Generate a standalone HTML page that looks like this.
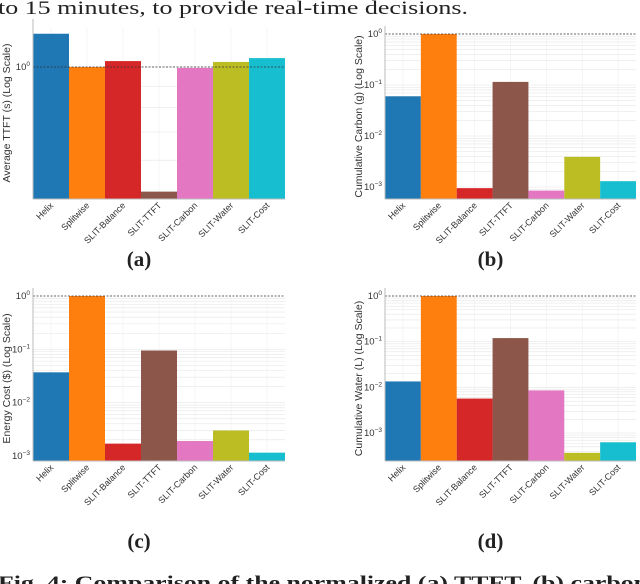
<!DOCTYPE html>
<html><head><meta charset="utf-8"><style>
body{margin:0;width:640px;height:584px;overflow:hidden;background:#fff;font-family:"Liberation Sans",sans-serif}
svg{position:absolute;left:0;top:0}
</style></head><body>
<svg id="s" width="640" height="584" xmlns="http://www.w3.org/2000/svg">
<text x="-2" y="14" font-family="Liberation Serif,serif" font-size="19" fill="#222" textLength="470" lengthAdjust="spacingAndGlyphs">to 15 minutes, to provide real-time decisions.</text>
<text x="-2" y="589" font-family="Liberation Serif,serif" font-size="19" font-weight="bold" fill="#222" textLength="650" lengthAdjust="spacingAndGlyphs">Fig. 4: Comparison of the normalized (a) TTFT, (b) carbon</text>
</svg>
<script>
const categories=["Helix","Splitwise","SLIT-Balance","SLIT-TTFT","SLIT-Carbon","SLIT-Water","SLIT-Cost"];
const colors=["#1f77b4","#ff7f0e","#d62728","#8c564b","#e377c2","#bcbd22","#17becf"];
const ttftValues=[1.2,1.0,1.033,0.505,0.995,1.028,1.05];
const carbonValues=[0.06,1.0,0.00095,0.115,0.00085,0.0039,0.0013];
const costValues=[0.037,1.0,0.0017,0.095,0.0019,0.003,0.00115];
const waterValues=[0.0135,1.0,0.0057,0.12,0.0086,0.00037,0.00063];
const ttftTicks=[0];
const decadeTicks=[0,-1,-2,-3];
const NS="http://www.w3.org/2000/svg";
const svg=document.getElementById('s');
function mk(t,a,p){const e=document.createElementNS(NS,t);for(const k in a)e.setAttribute(k,a[k]);(p||svg).appendChild(e);return e;}
function panel(id,vals,ticks,L,R,T,B,y0,pxDec,title,label,labY){
  const g=mk('g',{});
  
  
  const y=v=>y0-Math.log10(v)*pxDec;
  for(let d=-5;d<=0;d++){for(let m=1;m<10;m++){const yy=y(m*Math.pow(10,d));if(yy>T&&yy<B)mk('line',{x1:L,x2:R,y1:yy,y2:yy,stroke:'#e6e6e6','stroke-width':0.6},g);}}
  const bw=(R-L)/vals.length;
  for(let i=0;i<vals.length;i++)mk('line',{x1:L+bw*i+bw/2,x2:L+bw*i+bw/2,y1:T,y2:B,stroke:'#eee','stroke-width':0.6},g);
  vals.forEach((v,i)=>{
    const yt=Math.max(T,y(v));
    const r=mk('rect',{x:L+bw*i,y:yt,width:bw,height:B-yt,fill:colors[i]},g);
    
    
    const t=mk('text',{x:0,y:0,'font-size':9,fill:'#333','text-anchor':'end',transform:`translate(${L+bw*i+bw/2+3},${B+7}) rotate(-45)`},g);
    t.textContent=categories[i];
    
    
  });
  mk('line',{x1:L,x2:R,y1:y(1),y2:y(1),stroke:'#333','stroke-width':0.8,'stroke-dasharray':'2,1.5'},g);
  mk('line',{x1:L,x2:L,y1:T-8,y2:B,stroke:'#bbb','stroke-width':1},g);
  mk('line',{x1:L,x2:R,y1:B,y2:B,stroke:'#bbb','stroke-width':1},g);
  ticks.forEach(d=>{const yy=y(Math.pow(10,d));
    const t=mk('text',{x:L-3,y:yy+3,'font-size':9.5,fill:'#333','text-anchor':'end'},g);
    
    
    t.textContent='10';
    const s=mk('tspan',{'font-size':6.5,dy:-4},t);s.textContent=d===0?'0':'−'+(-d);
  });
  const yt=mk('text',{x:0,y:0,'font-size':10.5,fill:'#333','text-anchor':'middle',transform:`translate(${L-23},${(T+B)/2}) rotate(-90)`},g);
  yt.textContent=title;
  
  
  const lb=mk('text',{x:(L+R)/2-20,y:labY,'font-size':21,'font-weight':'bold','font-family':'Liberation Serif,serif',fill:'#222','text-anchor':'middle'},g);
  lb.textContent=label;
  
  
}
panel('ttft',ttftValues,ttftTicks,33,285,27,199,67,420,'Average TTFT (s) (Log Scale)','(a)',266);
panel('carbon',carbonValues,decadeTicks,385,636,34,199,34,51,'Cumulative Carbon (g) (Log Scale)','(b)',266);
panel('cost',costValues,decadeTicks,33,285,296,461,296,53.3,'Energy Cost ($) (Log Scale)','(c)',548);
panel('water',waterValues,decadeTicks,385,636,296,461,296,45.7,'Cumulative Water (L) (Log Scale)','(d)',548);
</script>
</body></html>
